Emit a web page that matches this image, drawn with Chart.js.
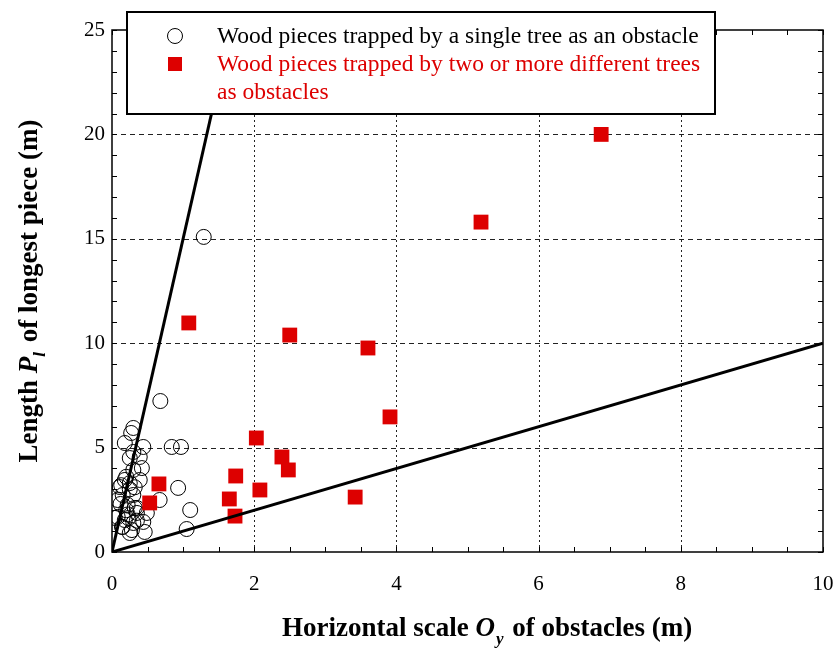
<!DOCTYPE html>
<html>
<head>
    <meta charset="UTF-8">
    <title>Longest piece vs obstacle scale</title>
    <script src="https://cdn.jsdelivr.net/npm/chart.js@4.4.0/dist/chart.umd.min.js"></script>
    <style type="text/css">
        body { margin: 0; background: #fff; }
    </style>
</head>
<body>

<canvas id="woodChart" width="837" height="648"></canvas>

<script>
    // wood pieces trapped by a single tree (open circles)
    const singleX = [1.29, 0.68, 0.84, 0.97, 0.30, 0.27, 0.18, 0.44, 0.30, 0.25, 0.39, 0.42, 0.30, 0.18, 0.39,
        0.11, 0.25, 0.20, 0.93, 0.67, 0.30, 0.15, 0.49, 0.35, 1.10, 0.08, 0.23, 0.15, 0.28, 0.46,
        1.05, 0.35, 0.13, 0.32, 0.08, 0.22, 0.32, 0.04, 0.18, 0.30, 0.44, 0.25, 0.14, 0.20, 0.12,
        0.35, 0.25, 0.22];
    const singleY = [15.09, 7.23, 5.03, 5.03, 5.94, 5.70, 5.22, 5.03, 4.79, 4.50, 4.55, 4.02, 3.93, 3.45, 3.45,
        3.11, 3.30, 3.60, 3.07, 2.49, 2.73, 2.73, 1.87, 2.11, 2.01, 1.68, 1.63, 1.20, 1.05, 0.96,
        1.10, 1.87, 3.20, 3.10, 2.49, 2.25, 2.11, 1.63, 1.53, 1.39, 1.44, 0.91, 1.20, 2.00, 2.30,
        1.50, 3.00, 1.80];

    // wood pieces trapped by two or more trees (red squares)
    const multiX = [6.88, 5.19, 1.08, 2.50, 3.60, 3.91, 2.03, 2.39, 2.48, 1.74, 2.08, 3.42, 1.65, 1.73, 0.66, 0.53];
    const multiY = [20.0, 15.8, 10.97, 10.39, 9.77, 6.47, 5.46, 4.55, 3.93, 3.64, 2.97, 2.63, 2.54, 1.72, 3.26, 2.35];

    // guide lines Pl = 15 Oy and Pl = Oy
    const steepX = [0, 25 / 15];
    const steepY = [0, 25];
    const flatX = [0, 10];
    const flatY = [0, 10];

    const legendLabels = [
        'Wood pieces trapped by a single tree as an obstacle',
        'Wood pieces trapped by two or more different trees',
        'as obstacles'
    ];

    const serif = '"Liberation Serif", "Times New Roman", serif';
    const red = '#dd0000';

    const toPoints = (xs, ys) => xs.map((x, i) => ({ x: x, y: ys[i] }));

    const decor = {
        id: 'decor',
        beforeDatasetsDraw(chart) {
            const { ctx, chartArea: a, scales: { x, y } } = chart;
            ctx.save();
            ctx.lineWidth = 1;
            ctx.strokeStyle = '#222';
            ctx.setLineDash([5, 4]);
            y.ticks.forEach(t => {
                if (t.value <= y.min || t.value >= y.max) return;
                const py = Math.round(y.getPixelForValue(t.value)) + 0.5;
                ctx.beginPath(); ctx.moveTo(a.left, py); ctx.lineTo(a.right, py); ctx.stroke();
            });
            ctx.setLineDash([2, 3]);
            x.ticks.forEach(t => {
                if (t.value <= x.min || t.value >= x.max) return;
                const px = Math.round(x.getPixelForValue(t.value)) + 0.5;
                ctx.beginPath(); ctx.moveTo(px, a.top); ctx.lineTo(px, a.bottom); ctx.stroke();
            });
            ctx.restore();
        },
        afterDraw(chart) {
            const { ctx, chartArea: a, scales: { x, y } } = chart;
            ctx.save();
            // frame
            ctx.strokeStyle = '#000';
            ctx.lineWidth = 1.5;
            ctx.strokeRect(a.left, a.top, a.right - a.left, a.bottom - a.top);

            // inward ticks on all four sides
            ctx.lineWidth = 1;
            for (let v = x.min; v <= x.max + 1e-9; v += 0.5) {
                const px = Math.round(x.getPixelForValue(v)) + 0.5;
                ctx.beginPath();
                ctx.moveTo(px, a.bottom); ctx.lineTo(px, a.bottom - 5);
                ctx.moveTo(px, a.top); ctx.lineTo(px, a.top + 5);
                ctx.stroke();
            }
            for (let v = y.min; v <= y.max + 1e-9; v += 1) {
                const py = Math.round(y.getPixelForValue(v)) + 0.5;
                ctx.beginPath();
                ctx.moveTo(a.left, py); ctx.lineTo(a.left + 5, py);
                ctx.moveTo(a.right, py); ctx.lineTo(a.right - 5, py);
                ctx.stroke();
            }

            // x axis title
            ctx.fillStyle = '#000';
            ctx.textBaseline = 'alphabetic';
            ctx.textAlign = 'left';
            let cx = 282;
            const by = 636;
            ctx.font = 'bold 27px ' + serif;
            ctx.fillText('Horizontal scale ', cx, by);
            cx += ctx.measureText('Horizontal scale ').width;
            ctx.font = 'italic bold 27px ' + serif;
            ctx.fillText('O', cx, by);
            cx += ctx.measureText('O').width + 1;
            ctx.font = 'italic bold 17px ' + serif;
            ctx.fillText('y', cx, by + 8);
            cx += ctx.measureText('y').width + 2;
            ctx.font = 'bold 27px ' + serif;
            ctx.fillText(' of obstacles (m)', cx, by);

            // y axis title
            ctx.save();
            ctx.translate(37, (a.top + a.bottom) / 2);
            ctx.rotate(-Math.PI / 2);
            const parts = [
                ['bold 27px ', 'Length ', 0],
                ['italic bold 27px ', 'P', 0],
                ['italic bold 17px ', 'l', 8],
                ['bold 27px ', ' of longest piece (m)', 0]
            ];
            let total = 0;
            parts.forEach(p => { ctx.font = p[0] + serif; total += ctx.measureText(p[1]).width; });
            total += 3;
            let tx = -total / 2;
            parts.forEach(p => {
                ctx.font = p[0] + serif;
                ctx.fillText(p[1], tx, p[2]);
                tx += ctx.measureText(p[1]).width + (p[2] ? 3 : 0);
            });
            ctx.restore();

            // legend box
            ctx.fillStyle = '#fff';
            ctx.fillRect(127, 12, 588, 102);
            ctx.lineWidth = 2;
            ctx.strokeStyle = '#000';
            ctx.strokeRect(127, 12, 588, 102);

            ctx.lineWidth = 1;
            ctx.beginPath();
            ctx.arc(175, 36, 7.5, 0, Math.PI * 2);
            ctx.stroke();
            ctx.fillStyle = red;
            ctx.fillRect(168, 57, 14, 14);

            ctx.font = '23.5px ' + serif;
            ctx.textBaseline = 'middle';
            ctx.fillStyle = '#000';
            ctx.fillText(legendLabels[0], 217, 37);
            ctx.fillStyle = red;
            ctx.fillText(legendLabels[1], 217, 65);
            ctx.fillText(legendLabels[2], 217, 93);
            ctx.restore();
        }
    };

    const ctx = document.getElementById('woodChart').getContext('2d');
    new Chart(ctx, {
        type: 'scatter',
        data: {
            datasets: [
                {
                    label: legendLabels[0],
                    data: toPoints(singleX, singleY),
                    pointStyle: 'circle',
                    pointRadius: 7.5,
                    borderColor: '#000',
                    borderWidth: 1,
                    backgroundColor: 'rgba(0,0,0,0)',
                    order: 3
                },
                {
                    label: legendLabels[1] + ' ' + legendLabels[2],
                    data: toPoints(multiX, multiY),
                    pointStyle: 'rect',
                    pointRadius: 10.5,
                    borderWidth: 0,
                    borderColor: red,
                    backgroundColor: red,
                    order: 2
                },
                {
                    label: 'Pl = 15 Oy',
                    type: 'line',
                    data: toPoints(steepX, steepY),
                    borderColor: '#000',
                    borderWidth: 3,
                    pointRadius: 0,
                    fill: false,
                    order: 1
                },
                {
                    label: 'Pl = Oy',
                    type: 'line',
                    data: toPoints(flatX, flatY),
                    borderColor: '#000',
                    borderWidth: 3,
                    pointRadius: 0,
                    fill: false,
                    order: 1
                }
            ]
        },
        options: {
            responsive: false,
            animation: false,
            layout: { padding: { left: 0, top: 30, right: 14, bottom: 0 } },
            plugins: {
                legend: { display: false },
                tooltip: { enabled: false }
            },
            scales: {
                x: {
                    type: 'linear',
                    min: 0,
                    max: 10,
                    ticks: { stepSize: 2, color: '#000', font: { family: serif, size: 21 }, padding: 20 },
                    grid: { display: false, drawTicks: false },
                    border: { display: false },
                    afterFit: s => { s.height = 96; s.paddingLeft = 0; s.paddingRight = 0; }
                },
                y: {
                    type: 'linear',
                    min: 0,
                    max: 25,
                    ticks: { stepSize: 5, color: '#000', font: { family: serif, size: 21 }, padding: 7 },
                    grid: { display: false, drawTicks: false },
                    border: { display: false },
                    afterFit: s => { s.width = 112; s.paddingTop = 0; s.paddingBottom = 0; }
                }
            }
        },
        plugins: [decor]
    });
</script>

</body>
</html>
